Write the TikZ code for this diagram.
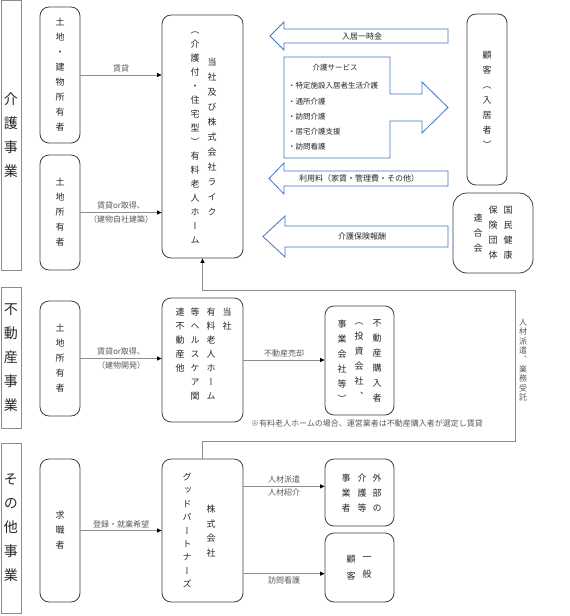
\documentclass[tikz,border=0pt]{standalone}
\usepackage{fontspec}
\setmainfont{Noto Sans CJK JP}
\newfontfamily\tatefont[RawFeature=+vert]{Noto Sans CJK JP}
\usepackage{xcolor}
\usepackage{tikz}
\usetikzlibrary{arrows.meta}

\definecolor{edgeDark}{HTML}{3F3F3F}
\definecolor{lineGray}{HTML}{8C8C8C}
\definecolor{officeBlue}{HTML}{4472C4}
\definecolor{labelGray}{HTML}{595959}
\definecolor{textDark}{HTML}{262626}

% one glyph per line (vertical writing)
\ExplSyntaxOn
\NewDocumentCommand\tatecol{m}
  {
    \seq_clear:N \l_tmpa_seq
    \tl_map_inline:nn {#1} { \seq_put_right:Nn \l_tmpa_seq {##1} }
    \seq_use:Nn \l_tmpa_seq { \\ }
  }
\ExplSyntaxOff

\begin{document}
\begin{tikzpicture}[x=1pt, y=-1pt,
    % ── boxes ──
    secBox/.style   = {draw=lineGray, line width=0.8pt, minimum width=20,
                       inner sep=0pt},
    roundBox/.style = {draw=edgeDark, fill=white, rounded corners=9pt,
                       line width=0.8pt, inner sep=0pt},
    blockArr/.style = {draw=officeBlue, fill=white, line width=0.8pt},
    % ── arrows ──
    conn/.style     = {draw=lineGray, line width=0.8pt,
                       -{Triangle[length=4.5pt, width=4pt, color=black]}},
    % ── text styles ──
    tate/.style     = {font=\tatefont\fontsize{9}{#1}\selectfont,
                       align=center, inner sep=0pt, text=textDark},
    tate/.default   = 15,
    secLabel/.style = {font=\tatefont\fontsize{14}{24}\selectfont,
                       align=center, inner sep=0pt, text=textDark},
    lbl/.style      = {font=\fontsize{8}{15}\selectfont, align=center,
                       inner sep=1pt, text=labelGray},
    arrLabel/.style = {font=\fontsize{8}{15}\selectfont, inner sep=0pt,
                       text=textDark},
]
\useasboundingbox (0,0) rectangle (570,616);

% =====================================================================
% Section labels (left strip)
% =====================================================================
\node[secBox, secLabel, minimum height=270] (secCare)  at (11,135)
  {\tatecol{介護事業}};
\node[secBox, secLabel, minimum height=141] (secRE)    at (11,357.5)
  {\tatecol{不動産事業}};
\node[secBox, secLabel, minimum height=170] (secOther) at (11,528)
  {\tatecol{その他事業}};

% =====================================================================
% 介護事業
% =====================================================================
\node[roundBox, tate, minimum width=40, minimum height=136] (owner1)
  at (60,75) {\tatecol{土地・建物所有者}};
\node[roundBox, tate, minimum width=40, minimum height=115] (owner2)
  at (60,212.5) {\tatecol{土地所有者}};

\node[roundBox, minimum width=81, minimum height=243] (like) at (202.5,136.5) {};
\node[tate]    (likeA) at (212,136.5) {\tatecol{当社及び株式会社ライク}};
\node[tate=14] (likeB) at (195,137.5) {\tatecol{（介護付・住宅型）有料老人ホーム}};

\node[roundBox, tate, minimum width=40, minimum height=171] (client)
  at (487,99.5) {\tatecol{顧客（入居者）}};

\node[roundBox, rounded corners=14pt, minimum width=80, minimum height=80]
  (kokuho) at (493,233) {};
\node[tate] (kokuhoA) at (508,233) {\tatecol{国民健康}};
\node[tate] (kokuhoB) at (493,233) {\tatecol{保険団体}};
\node[tate] (kokuhoC) at (478,233) {\tatecol{連合会}};

\draw[conn] (owner1.east) -- (owner1.east -| like.west)
  node[lbl, midway, above=1pt] (lblRent) {賃貸};
\draw[conn] (owner2.east) -- (owner2.east -| like.west)
  node[lbl, midway, above=1.5pt] (lblBuild1) {賃貸or取得、}
  node[lbl, midway, below=1.5pt] (lblBuild2) {（建物自社建築）};

% block arrows between company and customers
\draw[blockArr] (448,29) -- (284,29) -- (284,22) -- (270,36) -- (284,50)
  -- (284,43) -- (448,43) -- cycle;
\node[arrLabel] (txtFee) at (362,36) {入居一時金};

\draw[blockArr] (284,57) -- (390,57) -- (390,94) -- (422,94) -- (422,82)
  -- (448,107.5) -- (422,133) -- (422,121) -- (390,121) -- (390,158)
  -- (284,158) -- cycle;
\node[arrLabel, font=\fontsize{7.5}{15}\selectfont] (txtSvc) at (335,68)
  {介護サービス};
\node[arrLabel, font=\fontsize{7.5}{15.2}\selectfont, align=left,
  anchor=west] (txtSvcList) at (288,116.5)
  {・特定施設入居者生活介護\\・通所介護\\・訪問介護\\・居宅介護支援\\・訪問看護};

\draw[blockArr] (448,171) -- (284,171) -- (284,163) -- (269,178.5)
  -- (284,194) -- (284,186) -- (448,186) -- cycle;
\node[arrLabel] (txtUse) at (359,178.5) {利用料（家賃・管理費・その他）};

\draw[blockArr] (448,226) -- (285,226) -- (285,216) -- (263,236.5)
  -- (285,257) -- (285,247) -- (448,247) -- cycle;
\node[arrLabel] (txtIns) at (362,236.5) {介護保険報酬};

% =====================================================================
% 不動産事業
% =====================================================================
\node[roundBox, tate, minimum width=40, minimum height=115] (owner3)
  at (60,358.5) {\tatecol{土地所有者}};

\node[roundBox, minimum width=81, minimum height=124] (reBox) at (202.5,360) {};
\node[tate=14] (reA) at (227,319) {\tatecol{当社}};
\node[tate=14] (reB) at (211,354) {\tatecol{有料老人ホーム}};
\node[tate=14] (reC) at (195,354) {\tatecol{等ヘルスケア関}};
\node[tate=14] (reD) at (180,340) {\tatecol{連不動産他}};

\node[roundBox, minimum width=69, minimum height=109] (buyer) at (359.5,360.5) {};
\node[tate] (buyerA) at (377,360.5) {\tatecol{不動産購入者}};
\node[tate] (buyerB) at (359,361) {\tatecol{（投資会社、}};
\node[tate] (buyerC) at (342,361) {\tatecol{事業会社等）}};

\draw[conn] (owner3.east) -- (owner3.east -| reBox.west)
  node[lbl, midway, above=1.5pt] (lblDev1) {賃貸or取得、}
  node[lbl, midway, below=1.5pt] (lblDev2) {（建物開発）};
\draw[conn] (reBox.east) -- (reBox.east -| buyer.west)
  node[lbl, midway, above=1pt] (lblSell) {不動産売却};

\node[lbl, inner sep=0pt] (note) at (367,423)
  {※有料老人ホームの場合、運営業者は不動産購入者が選定し賃貸};

% =====================================================================
% その他事業
% =====================================================================
\node[roundBox, tate, minimum width=40, minimum height=143] (seeker)
  at (60,530.5) {\tatecol{求職者}};

\node[roundBox, minimum width=81, minimum height=143] (gp) at (202.5,530.5) {};
\node[tate=14.5] (gpA) at (211,531) {\tatecol{株式会社}};
\node[tate=13.4] (gpB) at (187,530.5) {\tatecol{グッドパートナーズ}};

\node[roundBox, minimum width=69, minimum height=67] (extCare) at (359.5,492.5) {};
\node[tate] (extA) at (377,493) {\tatecol{外部の}};
\node[tate] (extB) at (362,493) {\tatecol{介護等}};
\node[tate] (extC) at (346,493) {\tatecol{事業者}};

\node[roundBox, minimum width=69, minimum height=69] (general) at (359.5,567.5) {};
\node[tate=17] (genA) at (367,567.5) {\tatecol{一般}};
\node[tate=17] (genB) at (351,567.5) {\tatecol{顧客}};

\draw[conn] (seeker.east) -- (seeker.east -| gp.west)
  node[lbl, midway, above=1pt] (lblEntry) {登録・就業希望};
\draw[conn] (extCare.170 -| gp.east) -- (extCare.170)
  node[lbl, midway, above=1.5pt] (lblDispatch) {人材派遣}
  node[lbl, midway, below=1.5pt] (lblRecruit) {人材紹介};
\draw[conn] (general.190 -| gp.east) -- (general.190)
  node[lbl, midway, below=1.5pt] (lblVisit) {訪問看護};

% loop back: staffing / outsourcing to the care company
\coordinate (loopLow)  at (515,441);
\coordinate (loopHigh) at (515,290);
\draw[conn] (gp.north) |- (loopLow) -- (loopHigh) -| (like.south);
\node[lbl, font=\tatefont\fontsize{8}{9.4}\selectfont, inner sep=0pt]
  (lblStaff) at (523,360) {\tatecol{人材派遣、業務受託}};

\end{tikzpicture}
\end{document}
